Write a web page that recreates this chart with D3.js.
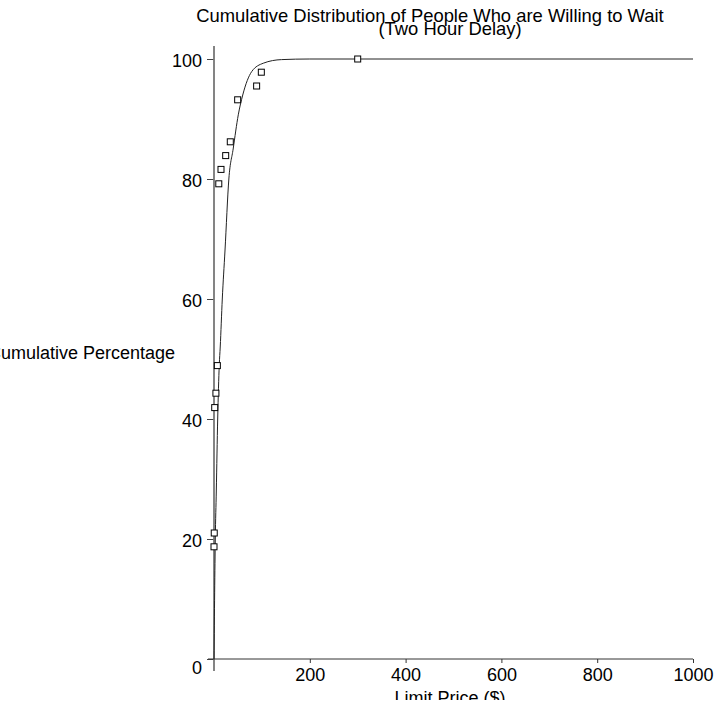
<!DOCTYPE html>
<html>
<head>
<meta charset="utf-8">
<script src="https://cdn.jsdelivr.net/npm/d3@7"></script>
<style>
	body{margin:0;background:#fff;overflow:hidden}
	text{font-family:"Liberation Sans",Arial,sans-serif;fill:#000}
</style>
</head>
<body>
<div id="chart"></div>
<script>
// observed points: limit price ($) vs cumulative percentage
var priceX = [0, 0.5, 1.5, 4, 7, 10, 14.6, 24.4, 34, 49.4, 89, 98.8, 300]
var pctY = [18.7, 21, 41.9, 44.3, 48.9, 79.2, 81.6, 83.9, 86.2, 93.2, 95.5, 97.8, 100]

// fitted curve
var curveX = [0, 2.7, 4.8, 7.7, 11, 13, 17.3, 22.9, 31, 40, 50.7, 60, 78.7, 103, 141, 200, 1000]
var curveY = [0, 20, 28, 40, 49, 52, 60, 68, 80, 85, 90.7, 94, 97.9, 99.3, 99.9, 100, 100]

var xTicks = [200, 400, 600, 800, 1000]
var yTicks = [0, 20, 40, 60, 80, 100]

var title = "Cumulative Distribution of People Who are Willing to Wait"
var subtitle = "(Two Hour Delay)"

var W = 714, H = 700
var svg = d3.select("#chart").append("svg")
	.attr("width", W)
	.attr("height", H)

var x = d3.scaleLinear().domain([0, 1000]).range([214, 693])
var y = d3.scaleLinear().domain([0, 100]).range([659, 59])

// titles
svg.append("text").attr("x", 430).attr("y", 22)
	.attr("text-anchor", "middle").style("font-size", "18.4px").text(title)
svg.append("text").attr("x", 450).attr("y", 35)
	.attr("text-anchor", "middle").style("font-size", "18.4px").text(subtitle)

// y axis
var yAxis = svg.append("g").attr("transform", "translate(" + x(0) + ",0)")
yAxis.call(d3.axisLeft(y).tickValues(d3.range(0, 101, 4)).tickSize(4).tickFormat(""))
yAxis.call(d3.axisLeft(y).tickValues(yTicks).tickSize(7).tickPadding(5))
yAxis.selectAll(".domain").remove()
yAxis.selectAll("line").attr("stroke", "#444")
yAxis.selectAll("text").style("font-size", "18px")
	.attr("dy", function(d){ return d === 0 ? "0.8em" : "0.42em" })
yAxis.append("line")
	.attr("y1", y(100) - 13).attr("y2", y(0) + 12)
	.attr("stroke", "#777").attr("stroke-width", 1.8)

// x axis
var xAxis = svg.append("g").attr("transform", "translate(0," + y(0) + ")")
xAxis.call(d3.axisBottom(x).tickValues(d3.range(40, 1001, 40)).tickSize(3).tickFormat(""))
xAxis.call(d3.axisBottom(x).tickValues(xTicks).tickSize(4).tickPadding(5).tickFormat(d3.format("d")))
xAxis.selectAll(".domain").remove()
xAxis.selectAll("line").attr("stroke", "#333")
xAxis.selectAll("text").style("font-size", "18px")
xAxis.append("line")
	.attr("x1", x(0) - 6).attr("x2", x(1000))
	.attr("stroke", "#333").attr("stroke-width", 1)

// axis labels
svg.append("text").attr("x", 175).attr("y", 359)
	.attr("text-anchor", "end").style("font-size", "18px").text("Cumulative Percentage")
svg.append("text").attr("x", 450).attr("y", 704)
	.attr("text-anchor", "middle").style("font-size", "18px").text("Limit Price ($)")

// fitted curve
var line = d3.line()
	.x(function(d, i){ return x(curveX[i]) })
	.y(function(d){ return y(d) })
	.curve(d3.curveMonotoneX)
svg.append("path")
	.datum(curveY)
	.attr("d", line)
	.attr("fill", "none")
	.attr("stroke", "#222")
	.attr("stroke-width", 1)

// observed points
svg.selectAll(".pt")
	.data(pctY)
	.enter()
	.append("rect")
	.attr("class", "pt")
	.attr("x", function(d, i){ return x(priceX[i]) - 3 })
	.attr("y", function(d){ return y(d) - 3 })
	.attr("width", 6)
	.attr("height", 6)
	.attr("fill", "#fff")
	.attr("stroke", "#000")
	.attr("stroke-width", 1)
</script>
</body>
</html>
